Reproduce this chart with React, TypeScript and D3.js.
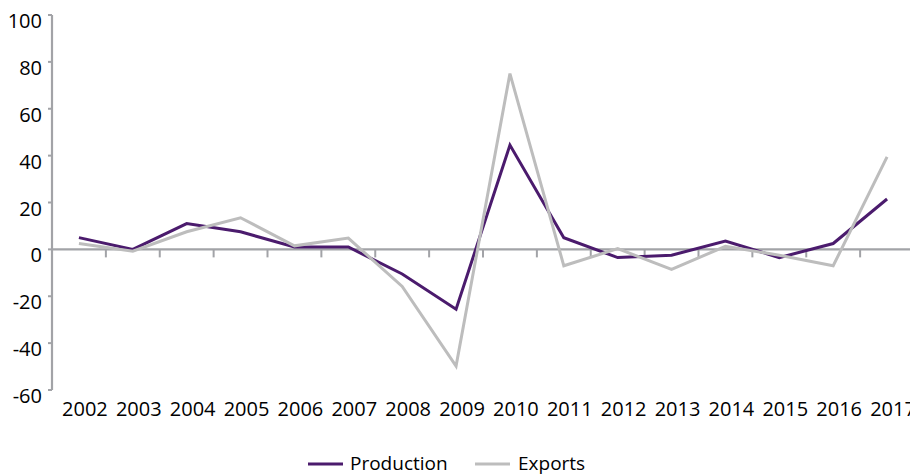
import React from "react";
import * as d3 from "d3";

// Annual growth rates (%)
const years = [
  "2002", "2003", "2004", "2005", "2006", "2007", "2008", "2009",
  "2010", "2011", "2012", "2013", "2014", "2015", "2016", "2017",
];
const production = [5, 0, 11, 7.5, 1, 1, -10.5, -25.5, 44.5, 5, -3.5, -2.5, 3.5, -3.5, 2.5, 21.5];
const exportsGrowth = [2.5, -0.8, 7.5, 13.5, 1.5, 4.8, -15.8, -49.8, 75, -7, 0.3, -8.5, 1.3, -2.5, -7, 39.5];
const yTicks = [-60, -40, -20, 0, 20, 40, 60, 80, 100];

const series = [
  { name: "Production", values: production, color: "#4b1b6d" },
  { name: "Exports", values: exportsGrowth, color: "#bdbdbd" },
];

const W = 910;
const H = 476;
const FONT = "'Open Sans', sans-serif";
const AXIS = "#a2a3a7";

export default function App() {
  const x = d3.scaleBand<string>().domain(years).range([52, 914]);
  const y = d3.scaleLinear().domain([-60, 100]).range([390, 15]);
  const cx = (i: number) => (x(years[i]) as number) + x.bandwidth() / 2;

  const line = d3
    .line<number>()
    .x((_, i) => cx(i))
    .y((v) => y(v));

  const x0 = x.range()[0];
  const legendX = [308, 475];
  const legendTextX = [350, 518];

  return (
    <svg
      width={W}
      height={H}
      style={{ position: "absolute", left: 0, top: 0, background: "#fff" }}
      fontFamily={FONT}
    >
      {/* y axis */}
      <line x1={x0} x2={x0} y1={y(100)} y2={y(-60)} stroke={AXIS} strokeWidth={2.2} />
      {yTicks.map((t) => (
        <g key={t}>
          <line x1={x0 - 4} x2={x0} y1={y(t)} y2={y(t)} stroke={AXIS} strokeWidth={2} />
          <text x={42} y={y(t) + 13} textAnchor="end" fontSize={20} fill="#000">
            {t}
          </text>
        </g>
      ))}

      {/* x axis along zero */}
      <line x1={x0} x2={W} y1={y(0)} y2={y(0)} stroke={AXIS} strokeWidth={2.2} />
      {years.map((yr) => (
        <line
          key={yr}
          x1={x(yr) as number}
          x2={x(yr) as number}
          y1={y(0)}
          y2={y(0) + 8}
          stroke={AXIS}
          strokeWidth={2}
        />
      ))}
      {years.map((yr, i) => (
        <text key={yr} x={cx(i) + 6} y={416} textAnchor="middle" fontSize={20} fill="#000">
          {yr}
        </text>
      ))}

      {/* series lines */}
      {series.map((s) => (
        <path
          key={s.name}
          d={line(s.values) as string}
          fill="none"
          stroke={s.color}
          strokeWidth={3}
          strokeLinejoin="miter"
        />
      ))}

      {/* legend */}
      {series.map((s, i) => (
        <g key={s.name}>
          <line
            x1={legendX[i]}
            x2={legendX[i] + 35}
            y1={464}
            y2={464}
            stroke={s.color}
            strokeWidth={3}
          />
          <text x={legendTextX[i]} y={470} fontSize={19} fill="#000">
            {s.name}
          </text>
        </g>
      ))}
    </svg>
  );
}
